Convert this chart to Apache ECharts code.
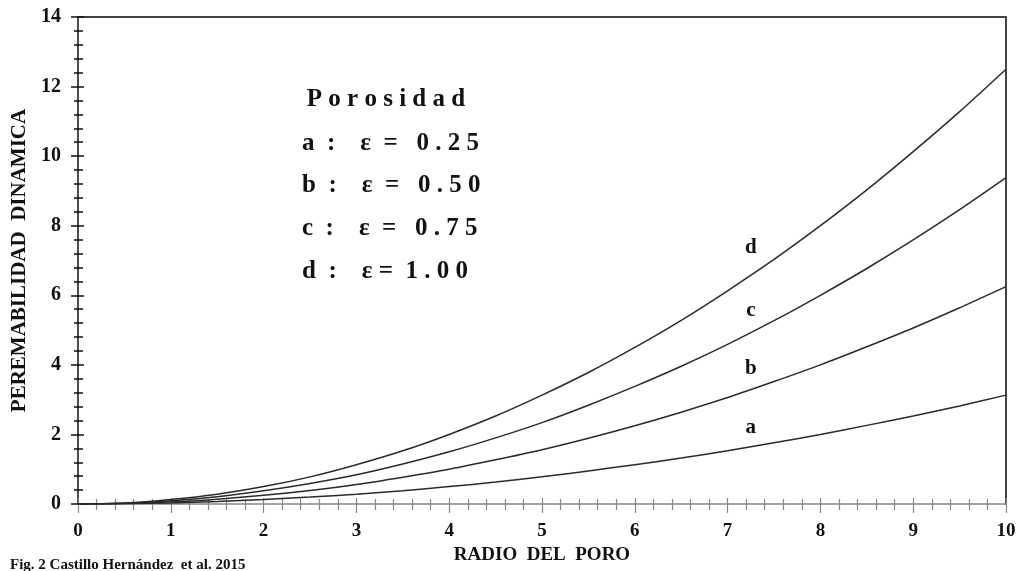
<!DOCTYPE html>
<html>
<head>
<meta charset="utf-8">
<script src="https://cdn.jsdelivr.net/npm/echarts@6/dist/echarts.min.js"></script>
<style>
  html, body { margin: 0; padding: 0; background: #fff; }
  #chart { width: 1019px; height: 571px; }
</style>
</head>
<body>
<div id="chart"></div>
<script>
// Pore radius (x) and dynamic permeability for four porosities
const radio = [0, 0.5, 1, 1.5, 2, 2.5, 3, 3.5, 4, 4.5, 5, 5.5, 6, 6.5, 7, 7.5, 8, 8.5, 9, 9.5, 10];
const curvaA = [0, 0.01, 0.03, 0.07, 0.13, 0.2, 0.28, 0.38, 0.5, 0.63, 0.78, 0.95, 1.13, 1.32, 1.53, 1.76, 2, 2.26, 2.53, 2.82, 3.13];
const curvaB = [0, 0.02, 0.06, 0.14, 0.25, 0.39, 0.56, 0.77, 1, 1.27, 1.56, 1.89, 2.25, 2.64, 3.06, 3.52, 4, 4.52, 5.06, 5.64, 6.25];
const curvaC = [0, 0.02, 0.09, 0.21, 0.38, 0.59, 0.84, 1.15, 1.5, 1.9, 2.34, 2.84, 3.38, 3.96, 4.59, 5.27, 6, 6.77, 7.59, 8.46, 9.38];
const curvaD = [0, 0.03, 0.13, 0.28, 0.5, 0.78, 1.13, 1.53, 2, 2.53, 3.13, 3.78, 4.5, 5.28, 6.13, 7.03, 8, 9.03, 10.13, 11.28, 12.5];

// Curve names and where their letters sit
const nombres = ['a', 'b', 'c', 'd'];
const etiquetas = [[7.25, 2.21], [7.25, 3.88], [7.25, 5.55], [7.25, 7.36]];

// Porosity key
const tituloLeyenda = 'P o r o s i d a d';
const lineasLeyenda = [
  'a  :    ε  =   0 . 2 5',
  'b  :    ε  =   0 . 5 0',
  'c  :    ε  =   0 . 7 5',
  'd  :    ε =  1 . 0 0'
];

const tituloX = 'RADIO  DEL  PORO';
const tituloY = 'PEREMABILIDAD  DINAMICA';
const pie = 'Fig. 2 Castillo Hernández  et al. 2015';

const FONT = '"Liberation Serif", "Times New Roman", serif';
const INK = '#111';

const chart = echarts.init(document.getElementById('chart'), null, { renderer: 'canvas' });

const gridBox = { left: 78, right: 13, top: 17, bottom: 67, outerBoundsMode: 'none', containLabel: false };

const series = [curvaA, curvaB, curvaC, curvaD].map((vals, i) => ({
  type: 'line',
  name: nombres[i],
  xAxisIndex: 0,
  yAxisIndex: 0,
  data: radio.map((x, k) => [x, vals[k]]),
  smooth: 0.3,
  showSymbol: false,
  symbol: 'none',
  lineStyle: { color: '#2a2a2a', width: 1.5 },
  animation: false,
  markPoint: {
    symbol: 'circle',
    symbolSize: 0,
    label: {
      show: true,
      formatter: nombres[i],
      color: INK,
      fontFamily: FONT,
      fontWeight: 'bold',
      fontSize: 21,
      position: 'inside'
    },
    data: [{ coord: etiquetas[i] }]
  }
}));

const legendGraphics = [tituloLeyenda].concat(lineasLeyenda).map((t, i) => ({
  type: 'text',
  x: i === 0 ? 386 : 302,
  y: [100, 144, 186, 229, 272][i],
  style: {
    text: t,
    fill: INK,
    font: 'bold 25px ' + FONT,
    textAlign: i === 0 ? 'center' : 'left',
    textVerticalAlign: 'middle'
  }
}));

const option = {
  animation: false,
  backgroundColor: '#fff',
  grid: [
    Object.assign({}, gridBox),
    Object.assign({}, gridBox)
  ],
  xAxis: [
    {
      // main bottom axis: labels, outer ticks
      type: 'value', gridIndex: 0, position: 'bottom',
      min: 0, max: 10, interval: 1,
      axisLine: { show: true, onZero: false, lineStyle: { color: '#888', width: 1.5 } },
      axisTick: { show: true, length: 9, lineStyle: { color: '#888', width: 1.2 } },
      minorTick: { show: true, splitNumber: 5, length: 6, lineStyle: { color: '#888', width: 1.2 } },
      axisLabel: { color: INK, fontFamily: FONT, fontWeight: 'bold', fontSize: 19, margin: 18 },
      splitLine: { show: false },
      name: tituloX, nameLocation: 'middle', nameGap: 42,
      nameTextStyle: { color: INK, fontFamily: FONT, fontWeight: 'bold', fontSize: 19 }
    },
    {
      // inner ticks so the marks cross the axis
      type: 'value', gridIndex: 1, position: 'bottom',
      min: 0, max: 10, interval: 1,
      axisLine: { show: false, onZero: false },
      axisTick: { show: true, inside: true, length: 6, lineStyle: { color: '#888', width: 1.2 } },
      minorTick: { show: true, splitNumber: 5, length: 5, lineStyle: { color: '#888', width: 1.2 } },
      axisLabel: { show: false },
      splitLine: { show: false }
    },
    {
      // top frame
      type: 'value', gridIndex: 1, position: 'top',
      min: 0, max: 10, interval: 1,
      axisLine: { show: true, onZero: false, lineStyle: { color: '#444', width: 2 } },
      axisTick: { show: false }, axisLabel: { show: false }, splitLine: { show: false }
    }
  ],
  yAxis: [
    {
      type: 'value', gridIndex: 0, position: 'left',
      min: 0, max: 14, interval: 2,
      axisLine: { show: true, onZero: false, lineStyle: { color: '#111', width: 1.5 } },
      axisTick: { show: true, length: 7, lineStyle: { color: '#111', width: 1.5 } },
      minorTick: { show: true, splitNumber: 5, length: 4, lineStyle: { color: '#111', width: 1.5 } },
      axisLabel: { color: INK, fontFamily: FONT, fontWeight: 'bold', fontSize: 20, margin: 17 },
      splitLine: { show: false },
      name: tituloY, nameLocation: 'middle', nameGap: 46, nameRotate: 90,
      nameTextStyle: { color: INK, fontFamily: FONT, fontWeight: 'bold', fontSize: 21 }
    },
    {
      type: 'value', gridIndex: 1, position: 'left',
      min: 0, max: 14, interval: 2,
      axisLine: { show: false, onZero: false },
      axisTick: { show: true, inside: true, length: 6, lineStyle: { color: '#111', width: 1.5 } },
      minorTick: { show: true, splitNumber: 5, length: 5, lineStyle: { color: '#111', width: 1.5 } },
      axisLabel: { show: false },
      splitLine: { show: false }
    },
    {
      // right frame
      type: 'value', gridIndex: 1, position: 'right',
      min: 0, max: 14, interval: 2,
      axisLine: { show: true, onZero: false, lineStyle: { color: '#444', width: 2 } },
      axisTick: { show: false }, axisLabel: { show: false }, splitLine: { show: false }
    }
  ],
  series: series,
  graphic: legendGraphics.concat([
    {
      type: 'text',
      x: 10,
      y: 565,
      style: {
        text: pie,
        fill: INK,
        font: 'bold 15px ' + FONT,
        textAlign: 'left',
        textVerticalAlign: 'middle'
      }
    }
  ])
};

chart.setOption(option);
</script>
</body>
</html>
